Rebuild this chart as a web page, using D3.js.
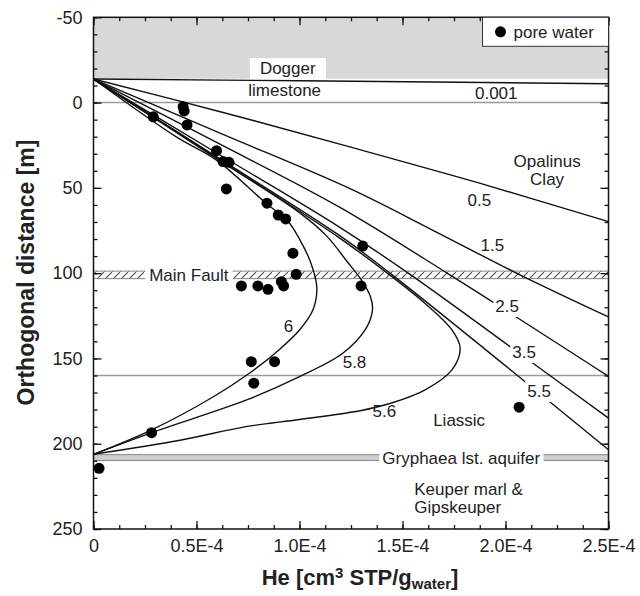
<!DOCTYPE html>
<html>
<head>
<meta charset="utf-8">
<script src="https://cdn.jsdelivr.net/npm/d3@7"></script>
<style>
  body { margin: 0; background: #fff; }
  svg { font-family: "Liberation Sans", Arial, sans-serif; }
</style>
</head>
<body>
<svg width="640" height="596"></svg>
<script>
// He in units of 1e-4 cm3 STP/g water, depth = orthogonal distance in m
var heTicks = [0, 0.5, 1.0, 1.5, 2.0, 2.5];
var heTickLabels = ["0", "0.5E-4", "1.0E-4", "1.5E-4", "2.0E-4", "2.5E-4"];
var depthTicks = [-50, 0, 50, 100, 150, 200, 250];

var poreHe    = [0.29, 0.435, 0.44, 0.454, 0.597, 0.629, 0.658, 0.645, 0.842, 0.897, 0.933, 0.968, 0.984,
                 1.307, 0.718, 0.798, 0.847, 0.912, 0.923, 1.299, 0.766, 0.879, 0.778, 0.282, 0.027, 2.066];
var poreDepth = [8.3, 2.4, 4.9, 13.1, 28.2, 34.6, 35, 50.6, 59, 65.9, 68.2, 88.3, 100.7,
                 84.1, 107.5, 107.5, 109.5, 105, 107.5, 107.5, 151.9, 151.9, 164.5, 193.5, 214.4, 178.6];

// model profiles, labelled by time (Ma)
var curve0001 = [[0, -13.8], [1.0, -12.8], [2.5, -11]];
var curve05 = [[0, -13.8], [0.62, 5.5], [1.24, 25.8], [1.87, 47.1], [2.5, 69.8]];
var curve15 = [[0, -13.8], [0.62, 18.2], [1.24, 50.2], [1.65, 75], [2.07, 101], [2.5, 125.7]];
var curve25 = [[0, -13.8], [0.6, 23.5], [1.19, 61], [1.73, 101], [2.5, 160.5]];
var curve35 = [[0, -13.8], [0.6, 29.7], [1.19, 72.7], [1.54, 101], [2.09, 149], [2.5, 185]];
var curve55 = [[0, -13.8], [0.6, 32], [1.19, 77.6], [1.45, 101], [2.16, 170], [2.5, 203.5]];
var curve56 = [[0, -13.8], [0.6, 32.5], [1.19, 79], [1.45, 102.2], [1.61, 117.8], [1.74, 133.3], [1.78, 144],
               [1.74, 156.7], [1.61, 168.4], [1.45, 176], [1.3, 180.5], [1.0, 185.8], [0.74, 190], [0.42, 198], [0, 206.2]];
var curve58 = [[0, -13.8], [0.6, 33], [1.0, 64.5], [1.13, 78], [1.23, 93], [1.3, 104], [1.345, 114], [1.354, 122],
               [1.32, 133], [1.21, 147], [1.0, 160.7], [0.74, 174.5], [0.28, 193.6], [0, 206.2]];
var curve6 = [[0, -13.8], [0.4, 20], [0.6, 34], [0.84, 59.3], [0.94, 69], [1.0, 80], [1.055, 94], [1.084, 108],
              [1.065, 121.6], [1.0, 133.3], [0.9, 145], [0.76, 158.4], [0.58, 172.6], [0.28, 192], [0, 206.2]];

var curves = [curve0001, curve05, curve15, curve25, curve35, curve55, curve56, curve58, curve6];

// annotations: [text, he, depth, whiteBackground]
var curveLabels = [
  ["0.001", 1.955, -5.6, false], ["0.5", 1.873, 57.1, false], ["1.5", 1.936, 83.5, false],
  ["2.5", 2.008, 119.2, true], ["3.5", 2.09, 146.2, true], ["5.5", 2.163, 169, true],
  ["6", 0.947, 130.9, false], ["5.8", 1.267, 152, false], ["5.6", 1.412, 180.8, false]
];
var unitLabels = [
  ["Opalinus", 2.202, 34.3], ["Clay", 2.202, 44.8], ["limestone", 0.928, -7.4], ["Liassic", 1.775, 186]
];

var svg = d3.select("svg");
var x = d3.scaleLinear().domain([0, 2.5]).range([93.5, 608.5]);
var y = d3.scaleLinear().domain([-50, 250]).range([17.3, 529]);
var x0 = x.range()[0], x1 = x.range()[1], y0 = y.range()[0], y1 = y.range()[1];

var defs = svg.append("defs");
defs.append("pattern")
    .attr("id", "hatch").attr("patternUnits", "userSpaceOnUse")
    .attr("width", 8).attr("height", 8)
  .append("path")
    .attr("d", "M-2,10 L10,-2")
    .attr("stroke", "#555").attr("stroke-width", 1.2);

// Dogger limestone (grey)
svg.append("rect")
    .attr("x", x0).attr("y", y(-50))
    .attr("width", x1 - x0).attr("height", y(-14) - y(-50))
    .attr("fill", "#d8d8d8");

// thin boundary lines
[0, 160].forEach(function(d) {
  svg.append("line")
      .attr("x1", x0).attr("x2", x1).attr("y1", y(d)).attr("y2", y(d))
      .attr("stroke", "#9a9a9a").attr("stroke-width", 1.5);
});

// Main Fault (hatched band)
svg.append("rect")
    .attr("x", x0).attr("y", y(98.8))
    .attr("width", x1 - x0).attr("height", y(103.2) - y(98.8))
    .attr("fill", "url(#hatch)").attr("stroke", "#888").attr("stroke-width", 1);

// Gryphaea aquifer (grey band)
svg.append("rect")
    .attr("x", x0).attr("y", y(206.4))
    .attr("width", x1 - x0).attr("height", y(209.8) - y(206.4))
    .attr("fill", "#cfcfcf").attr("stroke", "#888").attr("stroke-width", 1);

var line = d3.line()
    .x(function(d) { return x(d[0]); })
    .y(function(d) { return y(d[1]); })
    .curve(d3.curveCatmullRom.alpha(0.5));

svg.append("g").selectAll("path")
    .data(curves)
  .enter().append("path")
    .attr("d", line)
    .attr("fill", "none").attr("stroke", "#111").attr("stroke-width", 1.4);

function label(text, hx, dy, bg, pad, size, anchor) {
  var t = svg.append("text")
      .attr("x", x(hx)).attr("y", y(dy)).attr("dy", "0.36em")
      .attr("text-anchor", anchor || "middle")
      .attr("font-size", size || 17).attr("fill", "#222")
      .text(text);
  if (bg) {
    var b = t.node().getBBox();
    svg.insert("rect", function() { return t.node(); })
        .attr("x", b.x - pad).attr("y", b.y - 1)
        .attr("width", b.width + 2 * pad).attr("height", b.height + 2)
        .attr("fill", "#fff");
  }
  return t;
}

curveLabels.forEach(function(d) { label(d[0], d[1], d[2], d[3], 2); });
unitLabels.forEach(function(d) { label(d[0], d[1], d[2], false, 0); });
label("Dogger", 0.943, -20.3, true, 10);
label("Main Fault", 0.463, 101, true, 4);
label("Gryphaea lst. aquifer", 1.785, 208.1, true, 3);
label("Keuper marl &", 1.557, 226.5, false, 0, 17, "start");
label("Gipskeuper", 1.557, 237, false, 0, 17, "start");

// pore water samples
svg.append("g").selectAll("circle")
    .data(poreHe)
  .enter().append("circle")
    .attr("cx", function(d) { return x(d); })
    .attr("cy", function(d, i) { return y(poreDepth[i]); })
    .attr("r", 5.5)
    .attr("fill", "#000");

// axes, ticks inside on all four sides
function minorH() { return d3.range(0, 2.5001, 0.125); }
function minorV() { return d3.range(-50, 250.001, 10); }

function addAxis(axis, tx, ty, values, size, fmt) {
  var g = svg.append("g")
      .attr("transform", "translate(" + tx + "," + ty + ")")
      .call(axis.tickValues(values).tickSizeInner(-size).tickSizeOuter(0)
        .tickFormat(fmt || ""));
  g.select(".domain").remove();
  g.selectAll(".tick line").attr("stroke", "#111").attr("stroke-width", 1.3);
  g.selectAll("text").attr("font-size", 18).attr("fill", "#222")
      .attr("font-family", "Liberation Sans, Arial, sans-serif");
  return g;
}

addAxis(d3.axisBottom(x).tickPadding(10), 0, y1, heTicks, 8, function(d, i) { return heTickLabels[i]; });
addAxis(d3.axisBottom(x), 0, y1, minorH(), 4);
addAxis(d3.axisTop(x), 0, y0, heTicks, 8);
addAxis(d3.axisTop(x), 0, y0, minorH(), 4);
addAxis(d3.axisLeft(y).tickPadding(11), x0, 0, depthTicks, 8, function(d) { return d; });
addAxis(d3.axisLeft(y), x0, 0, minorV(), 4);
addAxis(d3.axisRight(y), x1, 0, depthTicks, 8);
addAxis(d3.axisRight(y), x1, 0, minorV(), 4);

svg.append("rect")
    .attr("x", x0).attr("y", y0)
    .attr("width", x1 - x0).attr("height", y1 - y0)
    .attr("fill", "none").attr("stroke", "#111").attr("stroke-width", 1.5);

// legend
var leg = svg.append("g").attr("transform", "translate(" + (x1 - 126) + "," + y0 + ")");
leg.append("rect")
    .attr("width", 126).attr("height", 29)
    .attr("fill", "#fff").attr("stroke", "#333").attr("stroke-width", 1);
leg.append("circle").attr("cx", 18).attr("cy", 14.5).attr("r", 5.5).attr("fill", "#000");
leg.append("text").attr("x", 31).attr("y", 14.5).attr("dy", "0.36em")
    .attr("font-size", 17).attr("fill", "#222").text("pore water");

// axis titles
svg.append("text")
    .attr("transform", "translate(34,272.5) rotate(-90)")
    .attr("text-anchor", "middle")
    .attr("font-size", 23).attr("font-weight", "bold").attr("fill", "#222")
    .text("Orthogonal distance [m]");

var xt = svg.append("text")
    .attr("x", 360).attr("y", 585)
    .attr("text-anchor", "middle")
    .attr("font-size", 22).attr("font-weight", "bold").attr("fill", "#222");
xt.append("tspan").text("He [cm");
xt.append("tspan").attr("font-size", 15).attr("dy", -7).text("3");
xt.append("tspan").attr("dy", 7).text(" STP/g");
xt.append("tspan").attr("font-size", 15).attr("dy", 4).text("water");
xt.append("tspan").attr("dy", -4).text("]");
</script>
</body>
</html>
